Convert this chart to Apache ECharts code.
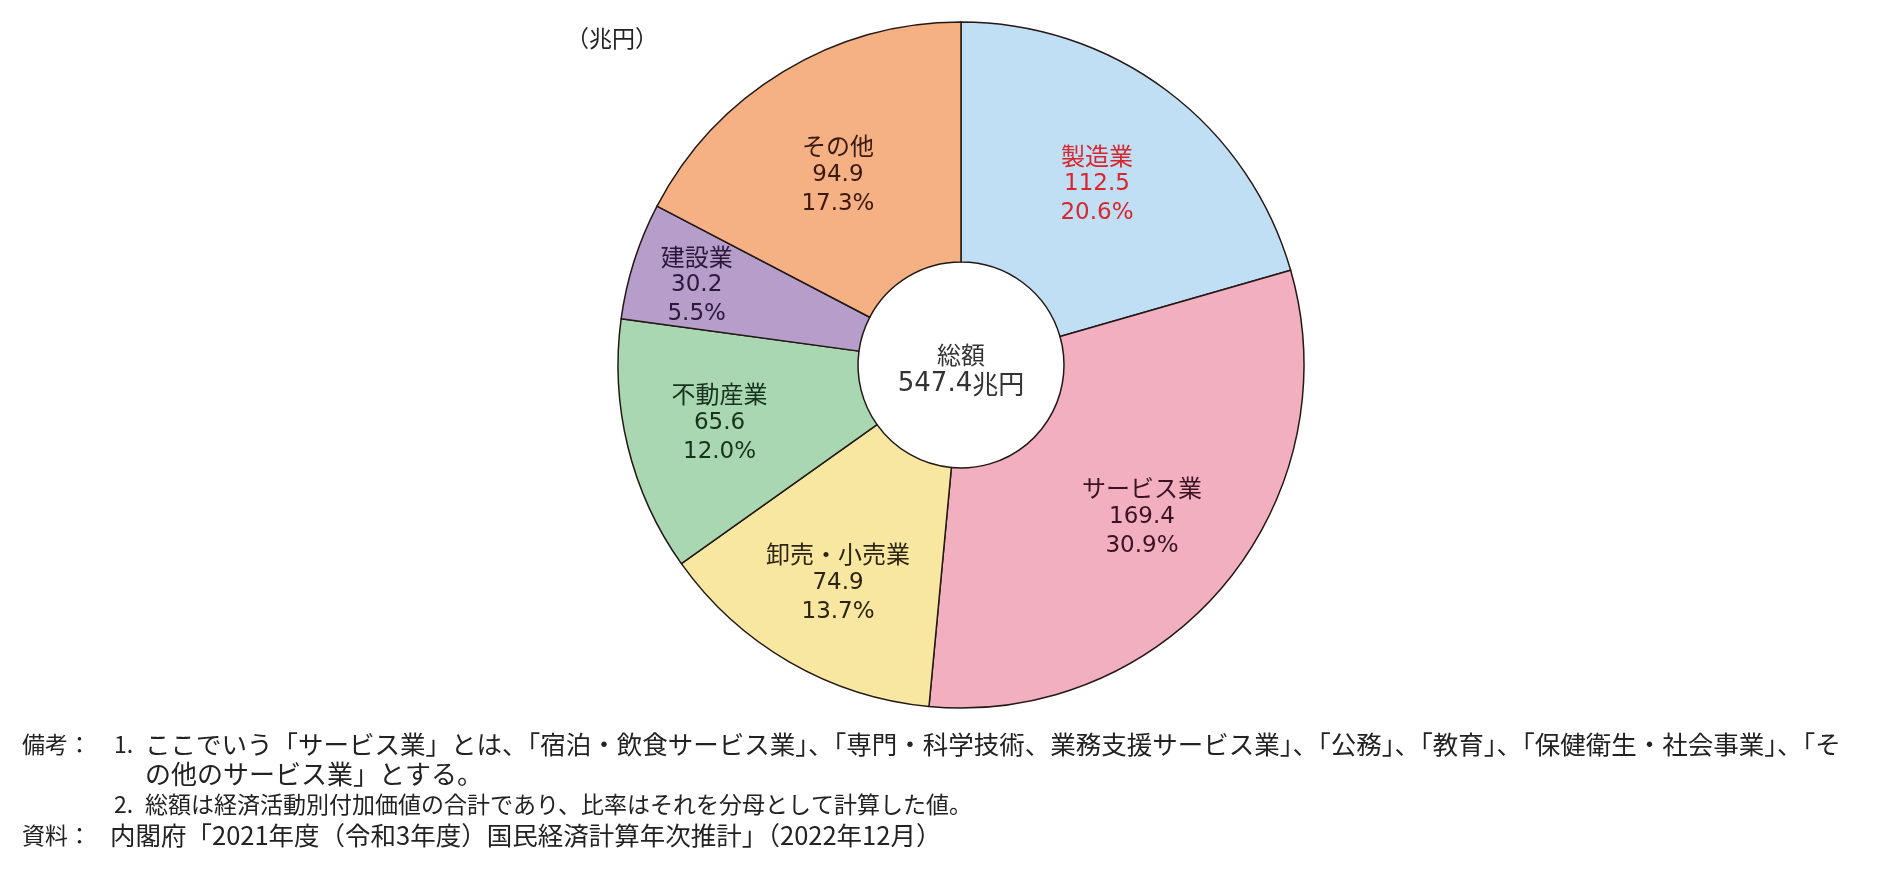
<!DOCTYPE html>
<html>
<head>
<meta charset="utf-8">
<script src="https://cdn.jsdelivr.net/npm/echarts@6/dist/echarts.min.js"></script>
<style>
html,body{margin:0;padding:0;background:#fff;}
#chart{width:1888px;height:871px;}
</style>
</head>
<body>
<div id="chart"></div>
<script>
const categories = ['製造業', 'サービス業', '卸売・小売業', '不動産業', '建設業', 'その他'];
const values = [112.5, 169.4, 74.9, 65.6, 30.2, 94.9];
const percents = ['20.6', '30.9', '13.7', '12.0', '5.5', '17.3'];
const totalLabel = ['総額', '547.4', '兆円'];
const unitLabel = '（兆円）';
const notes = [
  ['備考：', '1.', 'ここでいう「サービス業」とは、「宿泊・飲食サービス業」、「専門・科学技術、業務支援サービス業」、「公務」、「教育」、「保健衛生・社会事業」、「そ'],
  ['', '', 'の他のサービス業」とする。'],
  ['', '2.', '総額は経済活動別付加価値の合計であり、比率はそれを分母として計算した値。'],
  ['資料：', '', '内閣府「2021年度（令和3年度）国民経済計算年次推計」（2022年12月）']
];

const fills = ['#C0DFF5', '#F2AFC0', '#F8E7A1', '#A9D7B1', '#B69DCA', '#F5B183'];
const textColors = ['#D7262E', '#3A1222', '#2C2312', '#17321D', '#2A1A3A', '#3A1A10'];
const labelShift = [[0, 0], [7, 8], [-10, 22], [-22, 4], [-49, -11], [-6, 3]];

const FONT = '"Noto Sans CJK JP", "Noto Sans", sans-serif';
const NUMFONT = '"DejaVu Sans", "Noto Sans", sans-serif';

const chart = echarts.init(document.getElementById('chart'));

const data = categories.map((c, i) => ({
  name: c,
  value: values[i],
  itemStyle: { color: fills[i] },
  label: {
    color: textColors[i],
    rich: {
      n: { fontFamily: FONT, fontSize: 24, lineHeight: 29, color: textColors[i] },
      v: { fontFamily: NUMFONT, fontSize: 23, lineHeight: 29, color: textColors[i] }
    }
  }
}));

const graphics = [];
graphics.push({
  type: 'text', left: 566, top: 27,
  style: { text: unitLabel, font: '23px ' + FONT, fill: '#222' }
});
graphics.push({
  type: 'text', x: 961, y: 355,
  style: { text: totalLabel[0], font: '24px ' + FONT, fill: '#333', align: 'center', verticalAlign: 'middle' }
});
graphics.push({
  type: 'text', x: 961, y: 384,
  style: {
    text: '{a|' + totalLabel[1] + '}{b|' + totalLabel[2] + '}',
    align: 'center', verticalAlign: 'middle',
    rich: {
      a: { fontFamily: NUMFONT, fontSize: 26, fill: '#333', color: '#333' },
      b: { fontFamily: FONT, fontSize: 26, fill: '#333', color: '#333' }
    }
  }
});
const noteY = [744, 774, 804, 835];
const noteSize = [25.5, 26, 23, 25.5];
notes.forEach((ln, i) => {
  if (ln[0]) graphics.push({ type: 'text', x: 22, y: noteY[i], style: { text: ln[0], font: '23px ' + FONT, fill: '#222', verticalAlign: 'middle' } });
  if (ln[1]) graphics.push({ type: 'text', x: 114, y: noteY[i], style: { text: ln[1], font: '23px ' + FONT, fill: '#222', verticalAlign: 'middle' } });
  graphics.push({ type: 'text', x: i === 3 ? 110 : 145, y: noteY[i], style: { text: ln[2], font: noteSize[i] + 'px ' + FONT, fill: '#222', verticalAlign: 'middle' } });
});

chart.setOption({
  animation: false,
  backgroundColor: '#fff',
  series: [{
    type: 'pie',
    center: [961, 365],
    radius: [103, 343],
    startAngle: 90,
    clockwise: true,
    avoidLabelOverlap: false,
    itemStyle: { borderColor: '#231815', borderWidth: 1.5 },
    label: {
      show: true,
      position: 'inside',
      fontFamily: FONT,
      fontSize: 24,
      lineHeight: 29,
      align: 'center',
      formatter: p => '{n|' + p.name + '}\n{v|' + p.value.toFixed(1) + '}\n{v|' + percents[p.dataIndex] + '%}'
    },
    labelLine: { show: false },
    labelLayout: p => ({ dx: labelShift[p.dataIndex][0], dy: labelShift[p.dataIndex][1] }),
    emphasis: { disabled: true },
    data: data
  }],
  graphic: graphics
});
</script>
</body>
</html>
